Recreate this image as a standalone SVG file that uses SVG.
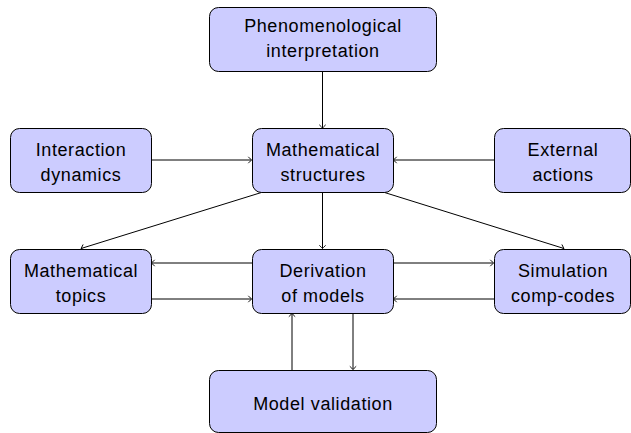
<svg xmlns="http://www.w3.org/2000/svg" width="631" height="433" viewBox="0 0 631 433">
<style>
.box{fill:#ccccff;stroke:#000;stroke-width:1}
.t{font-family:"Liberation Sans","DejaVu Sans",sans-serif;font-size:18px;fill:#000;text-anchor:middle;letter-spacing:0.6px}
.c{fill:none;stroke:#000;stroke-width:1}
</style>
<defs>
<marker id="a" viewBox="-5 -5 10 10" markerWidth="10" markerHeight="10" refX="0" refY="0" orient="auto" markerUnits="userSpaceOnUse">
<path d="M-3.2,-3.2 Q-0.8,-0.6 0,0 Q-0.8,0.6 -3.2,3.2" fill="none" stroke="#000" stroke-width="0.9"/>
</marker>
</defs>
<g id="connectors" class="c" marker-end="url(#a)">
<line x1="322.5" y1="71" x2="322.5" y2="128"/>
<line x1="151" y1="160" x2="251.5" y2="160"/>
<line x1="494" y1="160" x2="393.5" y2="160"/>
<line x1="322.5" y1="192" x2="322.5" y2="248.5"/>
<line x1="263" y1="192" x2="81" y2="248.5"/>
<line x1="383" y1="192" x2="564" y2="248.5"/>
<line x1="252" y1="263" x2="151.5" y2="263"/>
<line x1="151" y1="299" x2="251.5" y2="299"/>
<line x1="393" y1="263" x2="493.5" y2="263"/>
<line x1="494" y1="299" x2="393.5" y2="299"/>
<line x1="292" y1="370" x2="292" y2="313.5"/>
<line x1="353" y1="313" x2="353" y2="369.5"/>
</g>
<g id="phen"><rect class="box" x="209.5" y="7.5" width="227" height="64" rx="9"/><text class="t" x="323" y="32">Phenomenological</text><text class="t" x="323" y="57">interpretation</text></g>
<g id="inter"><rect class="box" x="10.5" y="128.5" width="141" height="64" rx="9"/><text class="t" x="81" y="156">Interaction</text><text class="t" x="81" y="181">dynamics</text></g>
<g id="mathstruct"><rect class="box" x="252.5" y="128.5" width="141" height="64" rx="9"/><text class="t" x="323" y="156">Mathematical</text><text class="t" x="323" y="181">structures</text></g>
<g id="external"><rect class="box" x="494.5" y="128.5" width="136" height="64" rx="9"/><text class="t" x="563" y="156">External</text><text class="t" x="563" y="181">actions</text></g>
<g id="mathtopics"><rect class="box" x="10.5" y="249.5" width="141" height="64" rx="9"/><text class="t" x="81" y="277">Mathematical</text><text class="t" x="81" y="302">topics</text></g>
<g id="derivation"><rect class="box" x="252.5" y="249.5" width="141" height="64" rx="9"/><text class="t" x="323" y="277">Derivation</text><text class="t" x="323" y="302">of models</text></g>
<g id="simulation"><rect class="box" x="494.5" y="249.5" width="136" height="64" rx="9"/><text class="t" x="563" y="277">Simulation</text><text class="t" x="563" y="302">comp-codes</text></g>
<g id="validation"><rect class="box" x="209.5" y="370.5" width="227" height="62" rx="9"/><text class="t" x="323" y="410">Model validation</text></g>
</svg>
